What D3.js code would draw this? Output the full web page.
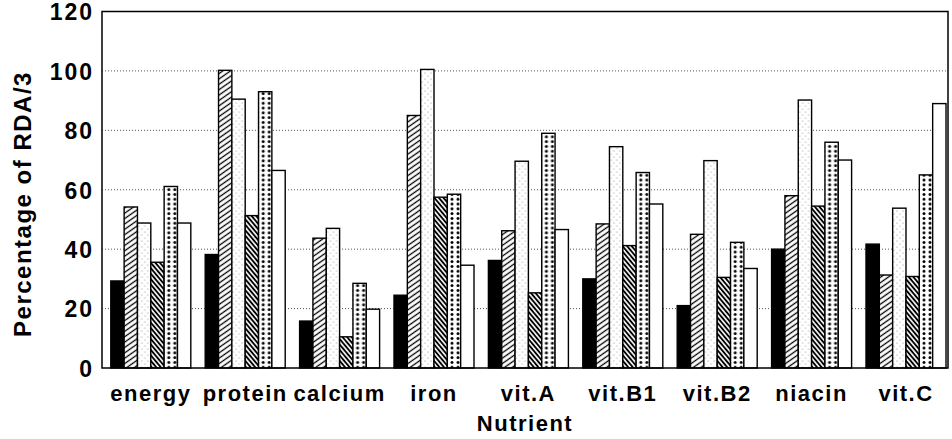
<!DOCTYPE html>
<html>
<head>
  <title>Percentage of RDA/3 by nutrient</title>
  <script src="https://d3js.org/d3.v7.min.js"></script>
  <style type="text/css">
    body {
      margin: 0;
      background-color: #ffffff;
    }
    text {
      font-family: 'Liberation Sans', Arial, sans-serif;
      font-weight: bold;
      fill: #000000;
    }
  </style>
</head>
<body>
<div id="chart"></div>

<script>
  // data
  var nutrients = ["energy", "protein", "calcium", "iron", "vit.A", "vit.B1", "vit.B2", "niacin", "vit.C"];
  var seriesNames = ["g1", "g2", "g3", "g4", "g5", "g6"];
  var g1 = [29.3, 38.2, 15.8, 24.5, 36.2, 30.0, 21.0, 40.0, 41.7];
  var g2 = [54.2, 100.2, 43.7, 85.0, 46.2, 48.5, 45.0, 58.0, 31.3];
  var g3 = [48.8, 90.5, 47.0, 100.5, 69.6, 74.5, 69.8, 90.2, 53.8];
  var g4 = [35.6, 51.3, 10.5, 57.5, 25.3, 41.2, 30.5, 54.5, 30.8];
  var g5 = [61.1, 93.0, 28.5, 58.5, 79.0, 65.8, 42.3, 76.0, 65.0];
  var g6 = [48.8, 66.5, 19.8, 34.6, 46.6, 55.2, 33.5, 70.0, 89.0];
  var yTicks = [0, 20, 40, 60, 80, 100, 120];

  var values = [g1, g2, g3, g4, g5, g6];

  var width = 952, height = 439;
  var plotL = 102, plotR = 948, plotT = 11.5, plotB = 368;

  var svg = d3.select("#chart").append("svg").attr("width", width).attr("height", height);

  // fill patterns
  var defs = svg.append("defs");
  var hatch = defs.append("pattern").attr("id", "hatch").attr("patternUnits", "userSpaceOnUse")
    .attr("width", 10).attr("height", 4.4).attr("patternTransform", "rotate(-35)");
  hatch.append("rect").attr("width", 10).attr("height", 4.4).attr("fill", "#fff");
  hatch.append("line").attr("x1", 0).attr("x2", 10).attr("y1", 2.2).attr("y2", 2.2).attr("stroke", "#000").attr("stroke-width", 1.3);

  var back = defs.append("pattern").attr("id", "back").attr("patternUnits", "userSpaceOnUse")
    .attr("width", 10).attr("height", 3.5).attr("patternTransform", "rotate(50)");
  back.append("rect").attr("width", 10).attr("height", 3.5).attr("fill", "#fff");
  back.append("line").attr("x1", 0).attr("x2", 10).attr("y1", 1.75).attr("y2", 1.75).attr("stroke", "#000").attr("stroke-width", 1.9);

  var stip = defs.append("pattern").attr("id", "stip").attr("patternUnits", "userSpaceOnUse")
    .attr("width", 6).attr("height", 6);
  stip.append("rect").attr("width", 6).attr("height", 6).attr("fill", "#fff");
  stip.append("circle").attr("cx", 1).attr("cy", 1).attr("r", 0.55).attr("fill", "#888");
  stip.append("circle").attr("cx", 4).attr("cy", 4).attr("r", 0.55).attr("fill", "#888");

  var dots = defs.append("pattern").attr("id", "dots").attr("patternUnits", "userSpaceOnUse")
    .attr("width", 6).attr("height", 4.8).attr("x", 1);
  dots.append("rect").attr("width", 6).attr("height", 4.8).attr("fill", "#fff");
  dots.append("circle").attr("cx", 3).attr("cy", 2.4).attr("r", 1.5).attr("fill", "#000");

  var fills = ["#000", "url(#hatch)", "url(#stip)", "url(#back)", "url(#dots)", "#fff"];

  // scales
  var x0 = d3.scaleBand().domain(nutrients).range([110.8, 946]).paddingInner(0.1525).paddingOuter(0);
  var x1 = d3.scaleBand().domain(seriesNames).range([0, x0.bandwidth()]);
  var y = d3.scaleLinear().domain([0, 120]).range([plotB, plotT]);

  // gridlines
  svg.append("g").selectAll("line").data(yTicks.filter(function (d) { return d > 0 && d < 120; }))
    .enter().append("line")
    .attr("x1", plotL).attr("x2", plotR)
    .attr("y1", function (d) { return y(d); }).attr("y2", function (d) { return y(d); })
    .attr("stroke", "#555").attr("stroke-width", 1).attr("stroke-dasharray", "1,2");

  // bars
  var groups = svg.append("g").selectAll("g").data(nutrients).enter().append("g")
    .attr("transform", function (d) { return "translate(" + x0(d) + ",0)"; });
  groups.selectAll("rect").data(function (d, i) {
      return seriesNames.map(function (s, j) { return {s: s, j: j, v: values[j][i]}; });
    })
    .enter().append("rect")
    .attr("x", function (d) { return x1(d.s); })
    .attr("y", function (d) { return y(d.v); })
    .attr("width", x1.bandwidth())
    .attr("height", function (d) { return plotB - y(d.v); })
    .attr("fill", function (d) { return fills[d.j]; })
    .attr("stroke", "#000").attr("stroke-width", 1.4);

  // frame
  svg.append("rect").attr("x", plotL).attr("y", plotT).attr("width", plotR - plotL).attr("height", plotB - plotT)
    .attr("fill", "none").attr("stroke", "#000").attr("stroke-width", 1.5);

  // y axis
  var yAxis = d3.axisLeft(y).tickValues(yTicks).tickSize(0).tickPadding(8);
  var ya = svg.append("g").attr("transform", "translate(" + plotL + ",0)").call(yAxis);
  ya.select(".domain").remove();
  ya.selectAll("text").style("font-size", "23px").style("letter-spacing", "2px").attr("dy", "0.36em");

  // x labels
  var xAxis = d3.axisBottom(x0).tickSize(0).tickPadding(0);
  var xa = svg.append("g").attr("transform", "translate(0," + plotB + ")").call(xAxis);
  xa.select(".domain").remove();
  xa.selectAll("text").attr("y", 33).attr("dy", 0).style("font-size", "22px").style("letter-spacing", "1.5px");

  // axis titles
  svg.append("text").attr("x", (plotL + plotR) / 2).attr("y", 431).attr("text-anchor", "middle")
    .style("font-size", "22px").style("letter-spacing", "1.5px").text("Nutrient");
  svg.append("text").attr("transform", "translate(31,204) rotate(-90)").attr("text-anchor", "middle")
    .style("font-size", "24px").style("letter-spacing", "1.5px").text("Percentage of RDA/3");
</script>

</body>
</html>
